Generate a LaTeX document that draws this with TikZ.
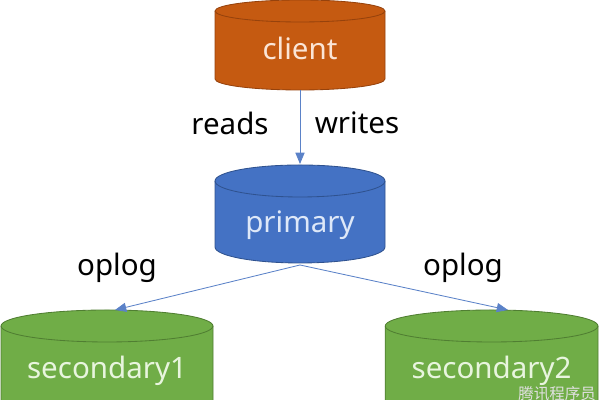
\documentclass[tikz,border=0pt]{standalone}
\usepackage{fontspec}
\setmainfont{Noto Sans}
\newfontfamily\cjk{Noto Sans CJK SC}
\usetikzlibrary{arrows.meta, positioning}
\definecolor{clientfill}{RGB}{197,90,17}
\definecolor{clientline}{RGB}{150,66,12}
\definecolor{clienttext}{RGB}{251,229,214}
\definecolor{primfill}{RGB}{68,114,196}
\definecolor{primline}{RGB}{47,82,143}
\definecolor{primtext}{RGB}{222,232,248}
\definecolor{secfill}{RGB}{112,173,71}
\definecolor{secline}{RGB}{80,126,50}
\definecolor{sectext}{RGB}{232,245,222}
\definecolor{linkblue}{RGB}{91,130,200}
\tikzset{dbtext/.style={font=\fontsize{21}{25}\selectfont, inner sep=0pt}, lbl/.style={font=\fontsize{21}{25}\selectfont, text=black},
    flow/.style={draw=linkblue, line width=0.6pt, -{Triangle[length=8pt,width=6.5pt]}}}
% x, top y, bottom y, rx, ry, fill, line
\newcommand{\drum}[7]{%
    \filldraw[fill=#6, draw=#7, line width=0.6pt] ({#1-#4},#2) -- ({#1-#4},#3) arc[start angle=180, end angle=360, x radius=#4, y radius=#5]
        -- ({#1+#4},#2) arc[start angle=0, end angle=180, x radius=#4, y radius=#5] -- cycle;
    \draw[#7, line width=0.6pt] ({#1-#4},#2) arc[start angle=180, end angle=360, x radius=#4, y radius=#5];
}

\begin{document}
\begin{tikzpicture}
    \useasboundingbox (0,0) rectangle (15,10);
    \clip (0,0) rectangle (15,10);

    \drum{7.5}{9.725}{8.025}{2.125}{0.275}{clientfill}{clientline}
    \drum{7.5}{5.475}{3.825}{2.125}{0.4}{primfill}{primline}
    \drum{2.675}{1.85}{-0.8}{2.65}{0.4}{secfill}{secline}
    \drum{12.29}{1.85}{-0.8}{2.66}{0.4}{secfill}{secline}

    \node[dbtext, text=clienttext] (client) at (7.5, 8.8) {client};
    \node[dbtext, text=primtext] (primary) at (7.5, 4.375) {primary};
    \node[dbtext, text=sectext] (sec1) at (2.675, 0.72) {secondary1};
    \node[dbtext, text=sectext] (sec2) at (12.29, 0.72) {secondary2};

    \coordinate (client-bot) at (7.5, 7.75);
    \coordinate (prim-top) at (7.5, 5.9);
    \coordinate (prim-bot) at (7.5, 3.375);
    \coordinate (sec1-top) at (2.875, 2.25);
    \coordinate (sec2-top) at (12.7, 2.25);

    \draw[flow] (client-bot) -- (prim-top);
    \draw[flow] (prim-bot) -- (sec1-top);
    \draw[flow] (prim-bot) -- (sec2-top);

    \node[lbl] (reads) at (5.75, 6.925) {reads};
    \node[lbl] (writes) at (8.925, 6.925) {writes};
    \node[lbl] (oplog1) at (2.925, 3.3) {oplog};
    \node[lbl] (oplog2) at (11.575, 3.3) {oplog};

    \node[font=\cjk\fontsize{11}{12}\selectfont, text=white!88!black, inner sep=0pt, anchor=south east] (mark) at (14.9, -0.02) {腾讯程序员};
\end{tikzpicture}
\end{document}
